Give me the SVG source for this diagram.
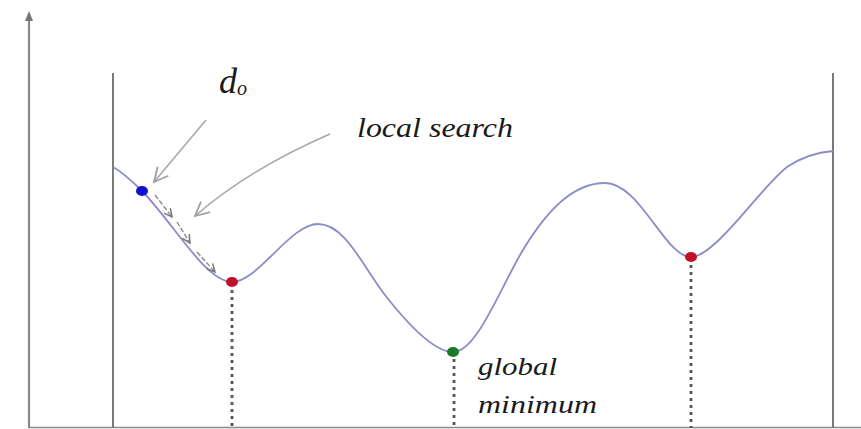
<svg xmlns="http://www.w3.org/2000/svg" width="861" height="429" viewBox="0 0 861 429">
<style>
.axis{stroke:#8a8a8a;stroke-width:2.2;fill:none}
.wall{stroke:#7a7a7a;stroke-width:2;fill:none}
.curve{stroke:#8c8cc8;stroke-width:1.8;fill:none}
.drop{stroke:#555;stroke-width:2.8;stroke-dasharray:3 4;fill:none}
.ptr{stroke:#a8a8a8;stroke-width:1.6;fill:none}
.step{stroke:#8a8a8a;stroke-width:1.4;stroke-dasharray:5 2;fill:none}
.lbl{font-family:"Liberation Serif","DejaVu Serif",serif;font-style:italic;fill:#1a1a1a}
</style>
<defs>
<marker id="open" markerWidth="20" markerHeight="20" refX="16" refY="10" orient="auto" markerUnits="userSpaceOnUse" viewBox="0 0 20 20">
<path d="M2,3 L16,10 L2,17" fill="none" stroke="#a0a0a0" stroke-width="1.8"/>
</marker>
<marker id="small" markerWidth="12" markerHeight="12" refX="10" refY="6" orient="auto" markerUnits="userSpaceOnUse" viewBox="0 0 12 12">
<path d="M2,2 L10,6 L2,10" fill="none" stroke="#777" stroke-width="1.5"/>
</marker>
</defs>
<g id="axes">
<line class="axis" x1="29" y1="428" x2="29" y2="18"/>
<path d="M25,21 L29,11 L33,21 Z" fill="#777"/>
<line class="axis" x1="28" y1="427.5" x2="861" y2="427.5" style="stroke-width:1.5"/>
<line class="wall" x1="113" y1="73" x2="113" y2="428"/>
<line class="wall" x1="833" y1="73" x2="833" y2="428"/>
</g>
<g id="landscape">
<path class="curve" d="M113,167 C122,172 133,182 142,191 C175,225 205,281 232,282 C258,282 290,224 318,224 C345,224 362,265 385,295 C410,327 435,352 453,352 C475,352 495,300 520,255 C548,207 575,183 605,183 C640,183 665,257 691,257 C715,257 760,188 787,167 C805,155 820,152 833,151"/>
</g>
<g id="connectors">
<line class="drop" x1="232" y1="290" x2="232" y2="428"/>
<line class="drop" x1="454" y1="359" x2="454" y2="428"/>
<line class="drop" x1="691" y1="265" x2="691" y2="428"/>
<line class="ptr" x1="206" y1="120" x2="154" y2="182" marker-end="url(#open)"/>
<path class="ptr" d="M330,134 C270,160 225,190 195,216" marker-end="url(#open)"/>
<line class="step" x1="155" y1="195" x2="172" y2="217" marker-end="url(#small)"/>
<line class="step" x1="177" y1="222" x2="190" y2="243" marker-end="url(#small)"/>
<line class="step" x1="197" y1="252" x2="215" y2="272" marker-end="url(#small)"/>
</g>
<g id="start-point"><ellipse cx="142" cy="191" rx="6" ry="5" fill="#1010d0"/></g>
<g id="local-min-1"><ellipse cx="232" cy="282" rx="6" ry="5" fill="#c0102a"/></g>
<g id="global-min"><ellipse cx="453" cy="352" rx="6" ry="5" fill="#1a7a2a"/></g>
<g id="local-min-2"><ellipse cx="691" cy="257" rx="6" ry="5" fill="#c0102a"/></g>
<g id="labels">
<text class="lbl" x="219" y="93" font-size="36">d<tspan font-size="20" dy="2">o</tspan></text>
<text class="lbl" x="357" y="137" font-size="27" textLength="156" lengthAdjust="spacingAndGlyphs">local search</text>
<text class="lbl" x="478" y="375" font-size="25" textLength="79" lengthAdjust="spacingAndGlyphs">global</text>
<text class="lbl" x="478" y="413" font-size="25" textLength="119" lengthAdjust="spacingAndGlyphs">minimum</text>
</g>
</svg>
